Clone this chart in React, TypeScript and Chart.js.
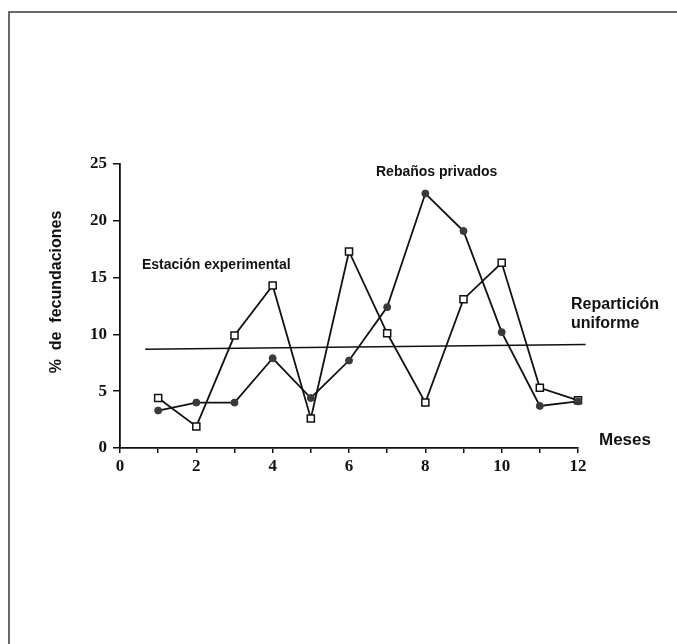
import React, { useEffect, useRef } from "react";
import { Chart, registerables } from "chart.js";

Chart.register(...registerables);

const months = [1, 2, 3, 4, 5, 6, 7, 8, 9, 10, 11, 12];
const estacionExperimental = [4.4, 1.9, 9.9, 14.3, 2.6, 17.3, 10.1, 4.0, 13.1, 16.3, 5.3, 4.2];
const rebanosPrivados = [3.3, 4.0, 4.0, 7.9, 4.4, 7.7, 12.4, 22.4, 19.1, 10.2, 3.7, 4.1];
const uniformX = [0.66, 12.2];
const uniformY = [8.7, 9.1];
const yTicks = [0, 5, 10, 15, 20, 25];
const xTickLabels = ["0", "2", "4", "6", "8", "10", "12"];

const texts = {
  yTitle: "%  de  fecundaciones",
  xTitle: "Meses",
  seriesA: "Estación experimental",
  seriesB: "Rebaños privados",
  uniform1: "Repartición",
  uniform2: "uniforme",
};

export default function App() {
  const ref = useRef<HTMLCanvasElement | null>(null);

  useEffect(() => {
    if (!ref.current) return;
    const sans = "'Liberation Sans', Arial, sans-serif";
    const serif = "'Liberation Serif', 'Times New Roman', serif";

    const decor = {
      id: "decor",
      beforeDraw(chart: any) {
        const ctx = chart.ctx;
        ctx.save();
        ctx.fillStyle = "#ffffff";
        ctx.fillRect(0, 0, chart.width, chart.height);
        ctx.strokeStyle = "#3a3a3a";
        ctx.lineWidth = 1.5;
        ctx.beginPath();
        ctx.moveTo(9, 644);
        ctx.lineTo(9, 12);
        ctx.lineTo(677, 12);
        ctx.stroke();
        ctx.restore();
      },
      afterDraw(chart: any) {
        const ctx = chart.ctx;
        ctx.save();
        ctx.fillStyle = "#111111";
        ctx.textBaseline = "middle";
        ctx.textAlign = "left";
        ctx.font = `bold 14px ${sans}`;
        ctx.fillText(texts.seriesA, 142, 265);
        ctx.fillText(texts.seriesB, 376, 172);
        ctx.font = `bold 16px ${sans}`;
        ctx.fillText(texts.uniform1, 571, 305);
        ctx.fillText(texts.uniform2, 571, 324);
        ctx.font = `bold 17px ${sans}`;
        ctx.fillText(texts.xTitle, 599, 440);
        ctx.translate(57, 292);
        ctx.rotate(-Math.PI / 2);
        ctx.textAlign = "center";
        ctx.font = `bold 16px ${sans}`;
        ctx.fillText(texts.yTitle, 0, 0);
        ctx.restore();
      },
    };

    const chart = new Chart(ref.current, {
      type: "line",
      data: {
        datasets: [
          {
            label: texts.seriesA,
            data: months.map((m, i) => ({ x: m, y: estacionExperimental[i] })),
            borderColor: "#111111",
            borderWidth: 1.8,
            pointStyle: "rect",
            pointRadius: 5,
            pointBackgroundColor: "#ffffff",
            pointBorderColor: "#111111",
            pointBorderWidth: 1.5,
            tension: 0,
            clip: false as any,
            order: 2,
          },
          {
            label: texts.seriesB,
            data: months.map((m, i) => ({ x: m, y: rebanosPrivados[i] })),
            borderColor: "#111111",
            borderWidth: 1.8,
            pointStyle: "circle",
            pointRadius: 3.5,
            pointBackgroundColor: "#3a3a3a",
            pointBorderColor: "#3a3a3a",
            pointBorderWidth: 1,
            tension: 0,
            clip: false as any,
            order: 1,
          },
          {
            label: "Repartición uniforme",
            data: uniformX.map((x, i) => ({ x, y: uniformY[i] })),
            borderColor: "#111111",
            borderWidth: 1.5,
            pointRadius: 0,
            clip: false as any,
            order: 3,
          },
        ],
      },
      options: {
        animation: false,
        responsive: true,
        maintainAspectRatio: false,
        layout: { padding: { left: 70, right: 99, top: 164, bottom: 166 } },
        plugins: {
          legend: { display: false },
          tooltip: { enabled: false },
        },
        scales: {
          x: {
            type: "linear",
            min: 0,
            max: 12,
            afterFit: (s: any) => {
              s.height = 30;
            },
            ticks: {
              stepSize: 1,
              autoSkip: false,
              maxRotation: 0,
              padding: 3,
              color: "#111111",
              font: { family: serif, size: 17, weight: "bold" },
              callback: (v: any) => {
                const s = String(v);
                return xTickLabels.includes(s) ? s : "";
              },
            },
            grid: {
              drawOnChartArea: false,
              drawTicks: true,
              tickLength: 5,
              color: "#111111",
              lineWidth: 1.5,
            },
            border: { display: true, color: "#111111", width: 1.8 },
          },
          y: {
            type: "linear",
            min: yTicks[0],
            max: yTicks[yTicks.length - 1],
            afterFit: (s: any) => {
              s.width = 50;
            },
            afterBuildTicks: (s: any) => {
              s.ticks = yTicks.map((v) => ({ value: v }));
            },
            ticks: {
              padding: 6,
              color: "#111111",
              font: { family: serif, size: 17, weight: "bold" },
            },
            grid: {
              drawOnChartArea: false,
              drawTicks: true,
              tickLength: 7,
              color: "#111111",
              lineWidth: 1.5,
            },
            border: { display: true, color: "#111111", width: 1.8 },
          },
        },
      },
      plugins: [decor],
    });
    return () => chart.destroy();
  }, []);

  return (
    <div style={{ position: "absolute", left: 0, top: 0, width: 677, height: 644, background: "#fff" }}>
      <canvas ref={ref} />
    </div>
  );
}
